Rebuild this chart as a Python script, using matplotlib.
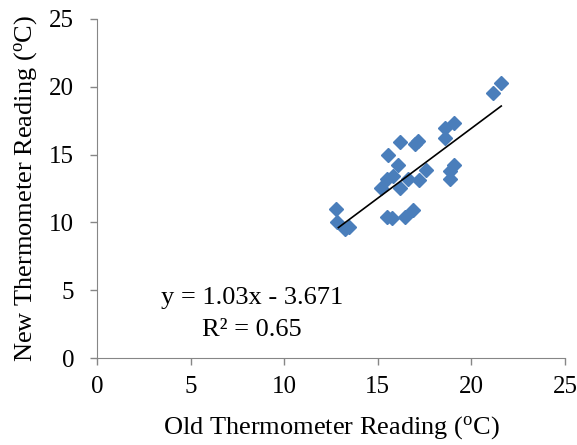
import matplotlib
matplotlib.use("Agg")
from matplotlib import pyplot as plt
import numpy as np

# readings (deg C)
old_reading = [12.76, 12.8, 13.25, 13.45, 15.19, 15.56, 15.52, 15.82, 15.52, 15.76,
               16.07, 16.21, 16.17, 16.45, 16.6, 16.86, 17.0, 17.16, 17.2, 17.6,
               18.58, 18.62, 19.07, 18.84, 18.84, 19.07, 21.14, 21.6]
new_reading = [10.96, 10.02, 9.53, 9.68, 12.55, 14.95, 13.2, 13.45, 10.42, 10.34,
               14.26, 15.9, 12.55, 10.42, 13.23, 10.9, 15.8, 15.98, 13.1, 13.85,
               16.96, 16.2, 17.3, 13.77, 13.2, 14.26, 19.53, 20.3]
slope = 1.03
intercept = -3.671
r_squared = 0.65

ticks = [0, 5, 10, 15, 20, 25]

plt.rcParams['font.family'] = ['Liberation Serif', 'DejaVu Serif']
plt.rcParams['mathtext.fontset'] = 'custom'
plt.rcParams['mathtext.rm'] = 'Liberation Serif'

fig = plt.figure(figsize=(5.77, 4.45), dpi=100)
ax = fig.add_axes([0.168, 0.1955, 0.811, 0.762])

ax.plot(old_reading, new_reading, linestyle='none', marker='D', markersize=7.2,
        color='#4A7EBB', markeredgecolor='#4A7EBB')

xs = np.array([12.9, 21.6])
ax.plot(xs, slope * xs + intercept, color='black', linewidth=1.2)

ax.text(8.28, 4.42, 'y = 1.03x - 3.671', ha='center', va='center', fontsize=19)
ax.text(8.28, 2.1, 'R² = {:.2f}'.format(r_squared), ha='center', va='center', fontsize=19)

ax.set_xlim(0, 25)
ax.set_ylim(0, 25)
ax.set_xticks(ticks)
ax.set_yticks(ticks)
ax.tick_params(labelsize=18, color='#868686', length=5, width=1)
ax.tick_params(axis='x', pad=8)
ax.tick_params(axis='y', pad=11.5)
for side in ['top', 'right']:
    ax.spines[side].set_visible(False)
for side in ['left', 'bottom']:
    ax.spines[side].set_color('#868686')

deg = r'($\mathrm{^o}$C)'
ax.set_xlabel('Old Thermometer Reading ' + deg, fontsize=19)
ax.set_ylabel('New Thermometer Reading ' + deg, fontsize=19)
ax.xaxis.set_label_coords(0.5, -0.165)
ax.yaxis.set_label_coords(-0.124, 0.5)

fig.savefig('out.png', dpi=100)
